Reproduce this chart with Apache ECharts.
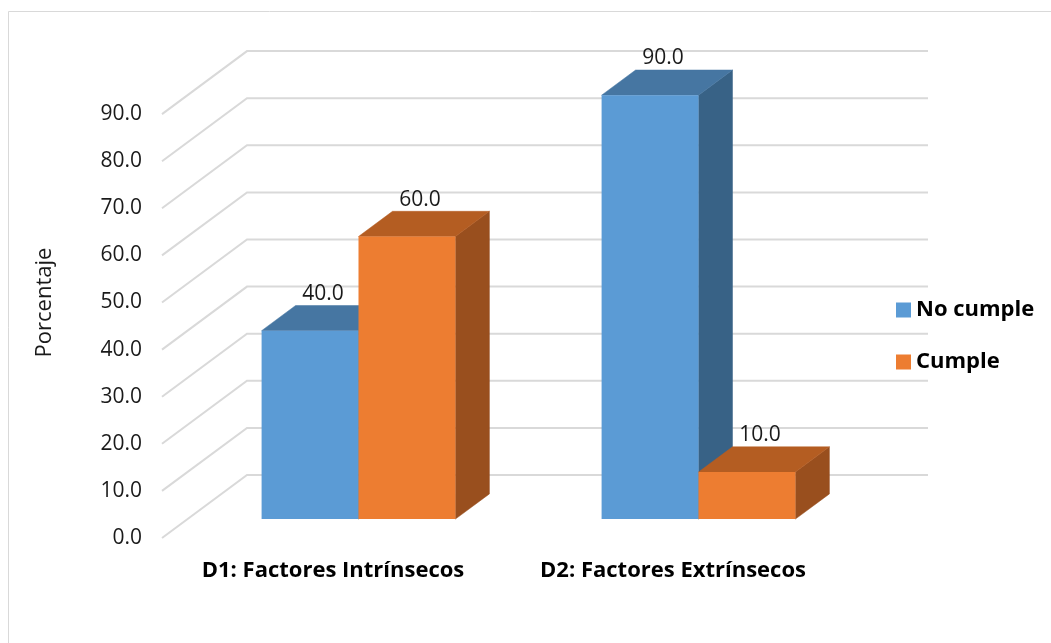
<!DOCTYPE html>
<html>
<head>
<meta charset="utf-8">
<script src="https://cdn.jsdelivr.net/npm/echarts@6/dist/echarts.min.js"></script>
<style>
  html, body { margin: 0; padding: 0; background: #ffffff; }
  #chart { width: 1051px; height: 643px; }
</style>
</head>
<body>
<div id="chart"></div>
<script>
// ---- data ----
const categories = ['D1: Factores Intrínsecos', 'D2: Factores Extrínsecos'];
const seriesNames = ['No cumple', 'Cumple'];
const noCumple = [40.0, 90.0];
const cumple = [60.0, 10.0];
const yMin = 0;
const yMax = 100;
const yStep = 10;
const wallTicks = [0, 10, 20, 30, 40, 50, 60, 70, 80, 90];

// ---- look ----
const FONT = '"Open Sans", Lato, sans-serif';
const WALL = [85, -63];          // depth vector of floor / left wall, px
const BAR_FRONT = 0.3;           // bar front plane, fraction of depth
const BAR_BACK = 0.7;            // bar back plane, fraction of depth
const BAR_W = 0.285;             // bar width, fraction of category band
const GRID_COLOR = '#d9d9d9';
const shades = [
  { front: '#5B9BD5', top: '#4676A2', side: '#386286' },
  { front: '#ED7D31', top: '#B45D22', side: '#994F1E' }
];

// back wall + left wall gridlines, one polyline per tick
function renderWall(params, api) {
  const cs = params.coordSys;
  const y = api.coord([0, api.value(1)])[1];
  const x0 = cs.x - 1;
  return {
    type: 'polyline',
    shape: {
      points: [
        [x0, y],
        [x0 + WALL[0], y + WALL[1]],
        [cs.x + cs.width + WALL[0], y + WALL[1]]
      ]
    },
    style: { stroke: GRID_COLOR, lineWidth: 2, fill: null },
    silent: true
  };
}

// 3D box for one bar: front, top, right side, value label
function makeBox(si) {
  const c = shades[si];
  return function (params, api) {
    const cat = api.value(0);
    const val = api.value(1);
    const base = api.coord([cat, 0]);
    const top = api.coord([cat, val]);
    const band = api.size([1, 0])[0];
    const w = band * BAR_W;
    const fx = WALL[0] * BAR_FRONT, fy = WALL[1] * BAR_FRONT;
    const dx = WALL[0] * (BAR_BACK - BAR_FRONT), dy = WALL[1] * (BAR_BACK - BAR_FRONT);
    const x0 = base[0] + fx + (si === 0 ? -w : 0);
    const x1 = x0 + w;
    const yb = base[1] + fy;
    const yt = top[1] + fy;
    return {
      type: 'group',
      children: [
        {
          type: 'polygon',
          shape: { points: [[x1, yt], [x1 + dx, yt + dy], [x1 + dx, yb + dy], [x1, yb]] },
          style: { fill: c.side, stroke: c.side, lineWidth: 0.5 }
        },
        {
          type: 'polygon',
          shape: { points: [[x0, yt], [x0 + dx, yt + dy], [x1 + dx, yt + dy], [x1, yt]] },
          style: { fill: c.top, stroke: c.top, lineWidth: 0.5 }
        },
        {
          type: 'rect',
          shape: { x: x0, y: yt, width: w, height: yb - yt },
          style: { fill: c.front }
        },
        {
          type: 'text',
          style: {
            text: val.toFixed(1),
            x: (x0 + x1) / 2 + dx / 2 - 4,
            y: yt + dy - 1,
            align: 'center',
            verticalAlign: 'bottom',
            fontFamily: FONT,
            fontSize: 21,
            fill: '#1a1a1a'
          }
        }
      ]
    };
  };
}

const chart = echarts.init(document.getElementById('chart'), null, { renderer: 'canvas' });

chart.setOption({
  animation: false,
  backgroundColor: '#ffffff',
  textStyle: { fontFamily: FONT },
  graphic: [{
    type: 'rect',
    shape: { x: 8.5, y: 11.5, width: 1100, height: 700 },
    style: { fill: null, stroke: GRID_COLOR, lineWidth: 1 },
    silent: true,
    z: -10
  }],
  grid: { left: 163, width: 680, top: 67, bottom: 105 },
  legend: {
    orient: 'vertical',
    left: 891,
    top: 294,
    icon: 'rect',
    itemWidth: 15,
    itemHeight: 15,
    itemGap: 30,
    data: seriesNames,
    textStyle: { fontFamily: FONT, fontSize: 22, fontWeight: 'bold', color: '#000000', lineHeight: 20 }
  },
  xAxis: {
    type: 'category',
    data: categories,
    axisLine: { show: false },
    axisTick: { show: false },
    splitLine: { show: false },
    axisLabel: {
      interval: 0,
      hideOverlap: false,
      margin: 22,
      fontFamily: FONT,
      fontSize: 22,
      fontWeight: 'bold',
      color: '#000000'
    }
  },
  yAxis: {
    type: 'value',
    min: yMin,
    max: yMax,
    interval: yStep,
    name: 'Porcentaje',
    nameLocation: 'middle',
    nameGap: 107,
    nameTextStyle: { fontFamily: FONT, fontSize: 22, color: '#1a1a1a' },
    axisLine: { show: false },
    axisTick: { show: false },
    splitLine: { show: false },
    axisLabel: {
      margin: 21,
      showMaxLabel: false,
      fontFamily: FONT,
      fontSize: 21,
      color: '#1a1a1a',
      formatter: v => v.toFixed(1)
    }
  },
  series: [
    {
      type: 'custom',
      name: 'walls',
      silent: true,
      renderItem: renderWall,
      data: wallTicks.map(v => [0, v]),
      z: 1
    },
    {
      type: 'custom',
      name: seriesNames[0],
      itemStyle: { color: shades[0].front },
      renderItem: makeBox(0),
      data: noCumple.map((v, i) => [i, v]),
      z: 2
    },
    {
      type: 'custom',
      name: seriesNames[1],
      itemStyle: { color: shades[1].front },
      renderItem: makeBox(1),
      data: cumple.map((v, i) => [i, v]),
      z: 3
    }
  ]
});
</script>
</body>
</html>
